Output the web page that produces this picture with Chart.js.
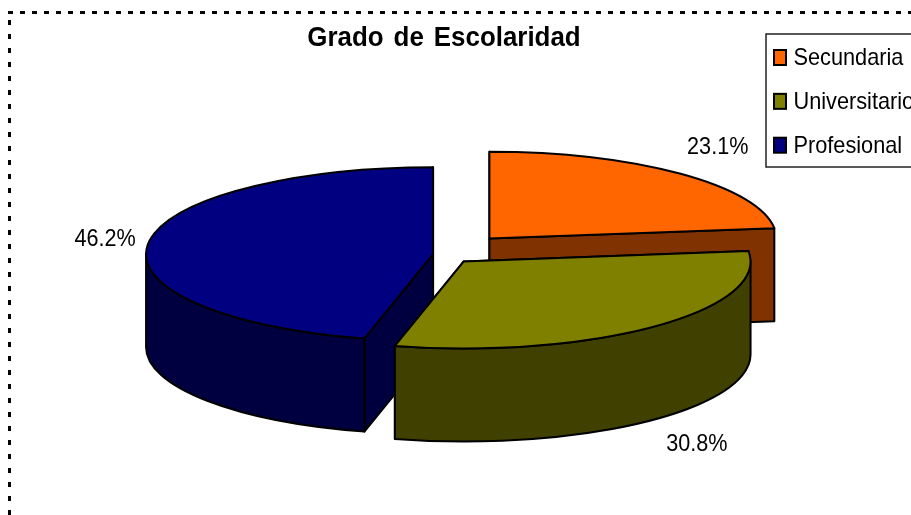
<!DOCTYPE html>
<html>
<head>
<meta charset="utf-8">
<title>Grado de Escolaridad</title>
<script src="https://cdn.jsdelivr.net/npm/chart.js@4/dist/chart.umd.min.js"></script>
<style>
  html, body { margin: 0; padding: 0; background: #fff; overflow: hidden; }
  canvas { display: block; }
</style>
</head>
<body>
<canvas id="chart" width="911" height="515"></canvas>
<script>
const chartTitle = 'Grado de Escolaridad';
const categories = ['Secundaria', 'Universitario', 'Profesional'];
const percents = [23.1, 30.8, 46.2];
const explode = [70, 31, 10];
const topColors = ['#ff6600', '#808000', '#000080'];
const sideColors = ['#803300', '#404000', '#000040'];

const FONT = '"Liberation Sans", Arial, sans-serif';
const TILT = 0.303;      // ellipse height / width of the pie top
const DEPTH = 93;        // height of the pie walls, px
const CENTER_X = 443;
const CENTER_Y = 254.5;
const RADIUS = 287;

// painted back to front
const drawOrder = [0, 2, 1];
// label baseline position relative to the rim at the middle of the slice
const labelShift = [[38, -20], [43, 124], [-43, 2]];

// the reference text is narrower than any installed font at that height
function narrowText(ctx, text, x, y, size, scaleX, align, bold) {
  ctx.save();
  ctx.fillStyle = '#000';
  ctx.font = (bold ? 'bold ' : '') + size + 'px ' + FONT;
  ctx.textAlign = align;
  ctx.textBaseline = 'alphabetic';
  ctx.translate(x, y);
  ctx.scale(scaleX, 1);
  ctx.fillText(text, 0, 0);
  ctx.restore();
}

function slicePath(arc) {
  const { x, y, startAngle, endAngle, outerRadius } = arc.getProps(['x', 'y', 'startAngle', 'endAngle', 'outerRadius'], true);
  const mid = (startAngle + endAngle) / 2;
  const off = arc.options.offset;
  const cx = x + Math.cos(mid) * off;
  const cy = (y + Math.sin(mid) * off) * TILT;
  return { cx, cy, r: outerRadius, ry: outerRadius * TILT, start: startAngle, end: endAngle, mid };
}

function drawSlice(ctx, s, top, side) {
  const px = a => s.cx + Math.cos(a) * s.r;
  const py = a => s.cy + Math.sin(a) * s.ry;

  ctx.lineWidth = 2;
  ctx.strokeStyle = '#000';
  ctx.lineJoin = 'round';

  // cut faces
  ctx.fillStyle = side;
  [s.start, s.end].forEach(a => {
    ctx.beginPath();
    ctx.moveTo(s.cx, s.cy);
    ctx.lineTo(px(a), py(a));
    ctx.lineTo(px(a), py(a) + DEPTH);
    ctx.lineTo(s.cx, s.cy + DEPTH);
    ctx.closePath();
    ctx.fill();
    ctx.stroke();
  });

  // outer wall, only the part facing the viewer
  const from = Math.max(s.start, 0);
  const to = Math.min(s.end, Math.PI);
  if (to > from) {
    ctx.beginPath();
    ctx.ellipse(s.cx, s.cy, s.r, s.ry, 0, from, to);
    ctx.lineTo(px(to), py(to) + DEPTH);
    ctx.ellipse(s.cx, s.cy + DEPTH, s.r, s.ry, 0, to, from, true);
    ctx.closePath();
    ctx.fill();
    ctx.stroke();
  }

  // top face
  ctx.fillStyle = top;
  ctx.beginPath();
  ctx.moveTo(s.cx, s.cy);
  ctx.ellipse(s.cx, s.cy, s.r, s.ry, 0, s.start, s.end);
  ctx.closePath();
  ctx.fill();
  ctx.stroke();
}

const pie3d = {
  id: 'pie3d',
  afterLayout(chart) {
    // the pie is laid out in untilted space, then squashed when painted
    const h = RADIUS * 2;
    const cy = CENTER_Y / TILT;
    chart.chartArea = {
      left: CENTER_X - RADIUS, right: CENTER_X + RADIUS,
      top: cy - h / 2, bottom: cy + h / 2,
      width: h, height: h
    };
  },
  beforeDraw(chart) {
    const ctx = chart.ctx;

    // dotted chart border, runs off the picture on the right and bottom
    ctx.save();
    ctx.strokeStyle = '#000';
    ctx.lineWidth = 3;
    ctx.setLineDash([5, 7]);
    ctx.beginPath();
    ctx.moveTo(8, 12.5);
    ctx.lineTo(chart.width, 12.5);
    ctx.stroke();
    ctx.setLineDash([5, 9]);
    ctx.beginPath();
    ctx.moveTo(9.5, 20);
    ctx.lineTo(9.5, chart.height);
    ctx.stroke();
    ctx.restore();

    // title
    ctx.save();
    ctx.wordSpacing = '3px';
    narrowText(ctx, chartTitle, 444, 45.7, 28, 0.925, 'center', true);
    ctx.restore();

    // legend, also cut by the right edge of the picture
    ctx.save();
    ctx.strokeStyle = '#222';
    ctx.lineWidth = 1.5;
    ctx.strokeRect(766, 34, 220, 133);
    categories.forEach((name, i) => {
      const baseline = 65 + i * 43.85;
      ctx.fillStyle = topColors[i];
      ctx.strokeStyle = '#000';
      ctx.lineWidth = 2;
      ctx.fillRect(774, baseline - 15, 12, 15);
      ctx.strokeRect(774, baseline - 15, 12, 15);
      narrowText(ctx, name, 793.5, baseline, 24, 0.905, 'left', false);
    });
    ctx.restore();
  },
  beforeDatasetDraw(chart, args) {
    const ctx = chart.ctx;
    const arcs = chart.getDatasetMeta(args.index).data;

    ctx.save();
    drawOrder.forEach(i => drawSlice(ctx, slicePath(arcs[i]), topColors[i], sideColors[i]));

    arcs.forEach((arc, i) => {
      const s = slicePath(arc);
      const x = s.cx + Math.cos(s.mid) * s.r + labelShift[i][0];
      const y = s.cy + Math.sin(s.mid) * s.ry + labelShift[i][1];
      narrowText(ctx, percents[i].toFixed(1) + '%', x, y, 24, 0.9, 'center', false);
    });
    ctx.restore();
    return false;
  }
};

new Chart(document.getElementById('chart'), {
  type: 'pie',
  data: {
    labels: categories,
    datasets: [{
      data: percents,
      backgroundColor: topColors,
      borderColor: '#000',
      borderWidth: 2,
      offset: explode
    }]
  },
  options: {
    responsive: false,
    animation: false,
    radius: RADIUS,
    plugins: {
      title: { display: false },
      legend: { display: false },
      tooltip: { enabled: false }
    }
  },
  plugins: [pie3d]
});
</script>
</body>
</html>
